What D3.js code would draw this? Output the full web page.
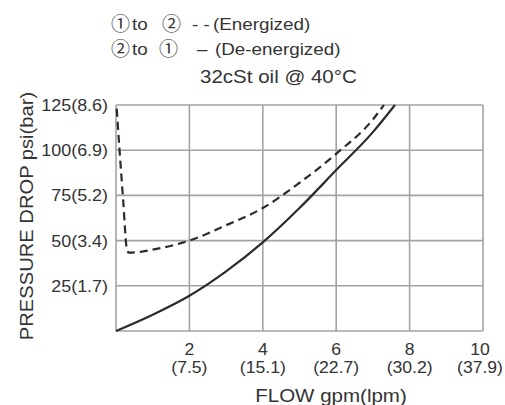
<!DOCTYPE html>
<html>
<head>
<meta charset="utf-8">
<script src="https://cdn.jsdelivr.net/npm/d3@7"></script>
<style>
  body { margin: 0; background: #fff; }
  text { font-family: "Liberation Sans", Arial, sans-serif; fill: #333; }
  text.circ { font-family: "Noto Sans CJK JP", "DejaVu Sans", sans-serif; }
</style>
</head>
<body>
<div class="container"></div>
<script>
// axis ticks
var flowTicks = [2, 4, 6, 8, 10];
var lpmLabels = ["(7.5)", "(15.1)", "(22.7)", "(30.2)", "(37.9)"];
var psiTicks = [25, 50, 75, 100, 125];
var barLabels = ["(1.7)", "(3.4)", "(5.2)", "(6.9)", "(8.6)"];

// 1 to 2, energized (dashed)
var energizedFlow = [0.02, 0.1, 0.2, 0.29, 0.35, 0.6, 1, 2, 3, 4, 5, 6, 7, 7.3];
var energizedPsi  = [123, 99, 71, 46, 43.3, 43.6, 45, 50, 58.5, 68, 82, 98, 117, 125];

// 2 to 1, de-energized (solid)
var deenergizedFlow = [0, 1, 2, 3, 4, 5, 6, 7, 7.6];
var deenergizedPsi  = [0, 9, 19.5, 33, 49, 68, 89, 110, 125];

var svg = d3.select('.container').append('svg')
    .attr("width", 505).attr("height", 405);

var x = d3.scaleLinear().domain([0, 10]).range([116, 483]);
var y = d3.scaleLinear().domain([0, 125]).range([331, 105]);

// text is a bit wider than plain Arial in the reference
function label(str, tx, ty, size, anchor, rot, sx){
    return svg.append("text")
        .attr("transform", "translate(" + tx + "," + ty + ") rotate(" + (rot || 0) + ") scale(" + (sx || 1.14) + ",1)")
        .attr("text-anchor", anchor || "start")
        .style("font-size", size + "px")
        .text(str);
}

// grid
var grid = svg.append("g").attr("stroke", "#a3a3a3").attr("stroke-width", 1.6);
grid.selectAll("line.v").data(flowTicks).enter().append("line")
    .attr("x1", function(d){ return x(d); }).attr("x2", function(d){ return x(d); })
    .attr("y1", y(0)).attr("y2", y(125));
grid.selectAll("line.h").data(psiTicks).enter().append("line")
    .attr("x1", x(0)).attr("x2", x(10))
    .attr("y1", function(d){ return y(d); }).attr("y2", function(d){ return y(d); });
grid.append("line").attr("x1", x(0)).attr("x2", x(10)).attr("y1", y(0)).attr("y2", y(0));
grid.append("line").attr("x1", x(0)).attr("x2", x(0)).attr("y1", y(0)).attr("y2", y(125));

// tick labels
for(var i = 0; i < psiTicks.length; i++){
    label(psiTicks[i] + barLabels[i], 108, y(psiTicks[i]) + 6, 16, "end", 0, 1.12);
}
for(var i = 0; i < flowTicks.length; i++){
    var cx = Math.min(x(flowTicks[i]), 480);
    label(flowTicks[i], cx, 355, 16, "middle", 0, 1.1);
    label(lpmLabels[i], cx, 373, 16, "middle", 0, 1.1);
}

// axis titles
label("FLOW gpm(lpm)", 331, 402, 18, "middle");
label("PRESSURE DROP psi(bar)", 33, 216, 18, "middle", -90, 1.12);

// curves
var line = d3.line()
    .x(function(d){ return x(d[0]); })
    .y(function(d){ return y(d[1]); })
    .curve(d3.curveMonotoneX);

svg.append("path")
    .datum(d3.zip(deenergizedFlow, deenergizedPsi))
    .attr("d", line)
    .attr("fill", "none").attr("stroke", "#2e2a2a").attr("stroke-width", 2.2);

svg.append("path")
    .datum(d3.zip(energizedFlow, energizedPsi))
    .attr("d", line)
    .attr("fill", "none").attr("stroke", "#2e2a2a").attr("stroke-width", 2.2)
    .attr("stroke-dasharray", "8,5");

// legend
var legend1 = [[111, "\u2460"], [132, "to"], [162, "\u2461"], [192, "- -"], [213, "(Energized)"]];
var legend2 = [[111, "\u2461"], [132, "to"], [159, "\u2460"], [197, "\u2013"], [215, "(De-energized)"]];
function legendRow(items, ty){
    items.forEach(function(d){
        var circ = d[1] == "\u2460" || d[1] == "\u2461";
        label(d[1], d[0], circ ? ty + 1 : ty, circ ? 19 : 16.5, "start", 0, circ ? 1 : 1.14)
            .classed("circ", circ);
    });
}
legendRow(legend1, 30);
legendRow(legend2, 55);
label("32cSt oil @ 40\u00b0C", 200, 83, 18);
</script>
</body>
</html>
